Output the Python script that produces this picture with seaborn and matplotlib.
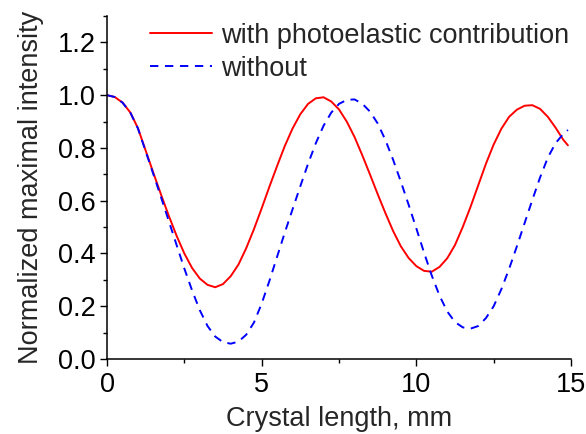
import numpy as np
import pandas as pd
import matplotlib
matplotlib.use("Agg")
import matplotlib.pyplot as plt
from matplotlib.ticker import MultipleLocator, FormatStrFormatter
import seaborn as sns

# Crystal length (mm) sampled every 0.25 mm
length_mm = [0.0, 0.25, 0.5, 0.75, 1.0, 1.25, 1.5, 1.75, 2.0, 2.25, 2.5, 2.75,
             3.0, 3.25, 3.5, 3.75, 4.0, 4.25, 4.5, 4.75, 5.0, 5.25, 5.5, 5.75,
             6.0, 6.25, 6.5, 6.75, 7.0, 7.25, 7.5, 7.75, 8.0, 8.25, 8.5, 8.75,
             9.0, 9.25, 9.5, 9.75, 10.0, 10.25, 10.5, 10.75, 11.0, 11.25, 11.5,
             11.75, 12.0, 12.25, 12.5, 12.75, 13.0, 13.25, 13.5, 13.75, 14.0,
             14.25, 14.5, 14.75, 14.9]

# Normalized maximal intensity including the photoelastic contribution
with_photoelastic = [1.000, 0.993, 0.972, 0.935, 0.875, 0.790, 0.705, 0.622,
                     0.542, 0.467, 0.400, 0.345, 0.305, 0.281, 0.272, 0.284,
                     0.314, 0.358, 0.420, 0.492, 0.571, 0.653, 0.732, 0.808,
                     0.874, 0.928, 0.967, 0.988, 0.992, 0.976, 0.946, 0.900,
                     0.842, 0.773, 0.700, 0.625, 0.553, 0.485, 0.427, 0.383,
                     0.352, 0.334, 0.331, 0.349, 0.382, 0.432, 0.500, 0.576,
                     0.658, 0.740, 0.813, 0.873, 0.918, 0.945, 0.960, 0.962,
                     0.948, 0.918, 0.877, 0.831, 0.810]

# Normalized maximal intensity without the photoelastic contribution
without_photoelastic = [1.000, 0.993, 0.972, 0.935, 0.874, 0.787, 0.700, 0.612,
                        0.522, 0.432, 0.343, 0.260, 0.185, 0.125, 0.085, 0.064,
                        0.058, 0.066, 0.092, 0.138, 0.210, 0.296, 0.388, 0.480,
                        0.568, 0.655, 0.740, 0.818, 0.884, 0.934, 0.967, 0.982,
                        0.984, 0.968, 0.938, 0.893, 0.830, 0.755, 0.672, 0.585,
                        0.495, 0.403, 0.316, 0.240, 0.180, 0.140, 0.120, 0.115,
                        0.125, 0.155, 0.200, 0.265, 0.342, 0.427, 0.515, 0.603,
                        0.688, 0.763, 0.818, 0.853, 0.868]

series_labels = ["with photoelastic contribution", "without"]

sns.set_style("ticks")
plt.rcParams["font.family"] = ["Liberation Sans", "DejaVu Sans"]

FS = 19.5
DASH = [4.3, 3.4]

df = pd.DataFrame({
    "length": length_mm * 2,
    "intensity": with_photoelastic + without_photoelastic,
    "series": [series_labels[0]] * len(length_mm) + [series_labels[1]] * len(length_mm),
})

fig = plt.figure(figsize=(5.86, 4.34), dpi=100)
ax = fig.add_axes([0.1826, 0.1728, 0.7918, 0.7903])

sns.lineplot(data=df[df.series == series_labels[0]], x="length", y="intensity",
             color="#ff0000", linewidth=1.4, ax=ax, label=series_labels[0])
sns.lineplot(data=df[df.series == series_labels[1]], x="length", y="intensity",
             color="#0000ff", linewidth=1.4, ax=ax, label=series_labels[1])
ax.lines[1].set_dashes(DASH)

ax.set_xlim(0, 15)
ax.set_ylim(0, 1.3)
ax.xaxis.set_major_locator(MultipleLocator(5))
ax.xaxis.set_minor_locator(MultipleLocator(2.5))
ax.yaxis.set_major_locator(MultipleLocator(0.2))
ax.yaxis.set_minor_locator(MultipleLocator(0.1))
ax.yaxis.set_major_formatter(FormatStrFormatter("%.1f"))

for side in ("top", "right"):
    ax.spines[side].set_visible(False)
for side in ("left", "bottom"):
    ax.spines[side].set_linewidth(1.1)
    ax.spines[side].set_color("black")

ax.tick_params(which="major", direction="out", length=5, width=1.0,
               labelsize=FS, colors="black", pad=3)
ax.tick_params(axis="x", which="major", pad=4)
ax.tick_params(which="minor", direction="out", length=3, width=1.0, colors="black")

ax.set_xlabel("Crystal length, mm", fontsize=FS, labelpad=6)
ax.set_ylabel("Normalized maximal intensity", fontsize=FS, labelpad=10)

leg = ax.legend(loc="upper left", bbox_to_anchor=(0.0927, 0.98), frameon=False,
                fontsize=FS, handlelength=2.3, handletextpad=0.33,
                labelspacing=0.25, borderpad=0, borderaxespad=0)
leg.get_lines()[1].set_dashes(DASH)

fig.savefig("out.png", dpi=100)
